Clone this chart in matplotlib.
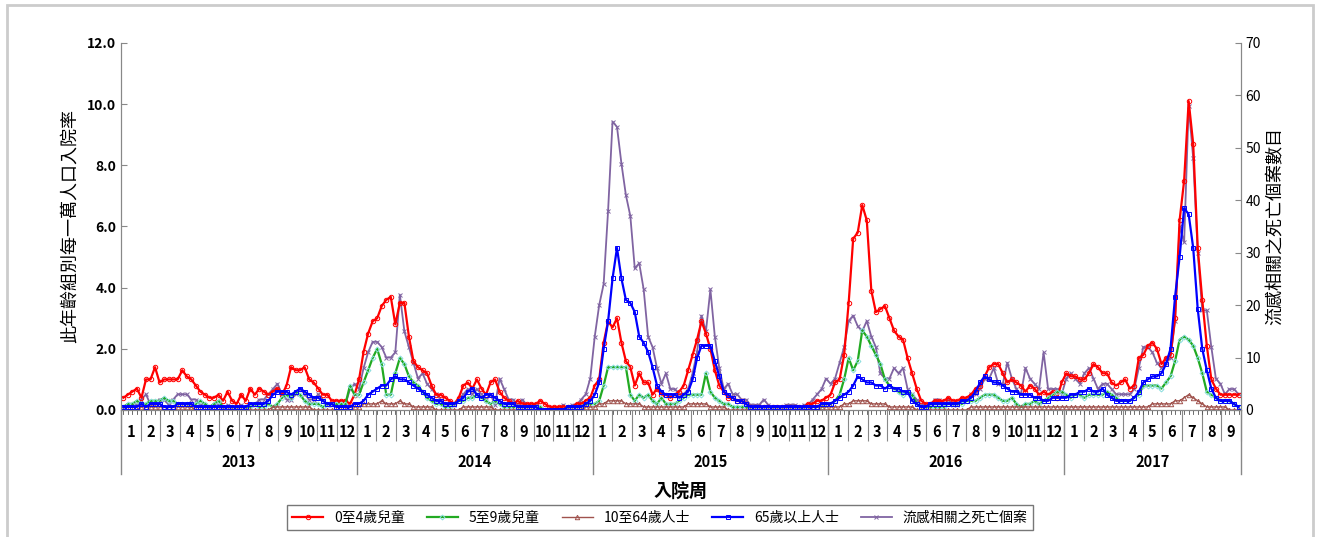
import numpy as np
import matplotlib.pyplot as plt
from matplotlib.transforms import blended_transform_factory

plt.rcParams['font.family'] = ['Noto Sans CJK TC', 'DejaVu Sans']

# 每周數據 (2013第1周 - 2017第39周)
red = ([0.4,0.5,0.6,0.7,0.4,1.0,1.0,1.4,0.9,1.0,1.0,1.0,1.0, 1.3,1.1,1.0,0.8,0.6,0.5,0.4,0.4,0.5,0.3,0.6,0.3,0.2,
        0.5,0.3,0.7,0.5,0.7,0.6,0.5,0.6,0.7,0.5,0.8,1.4,1.3, 1.3,1.4,1.0,0.9,0.7,0.5,0.5,0.3,0.3,0.3,0.3,0.2,0.5]
     + [1.0,1.9,2.5,2.9,3.0,3.4,3.6,3.7,2.8,3.5,3.5,2.4,1.6, 1.4,1.3,1.2,0.8,0.5,0.5,0.4,0.3,0.2,0.4,0.8,0.9,0.7,
        1.0,0.7,0.5,0.9,1.0,0.6,0.4,0.3,0.2,0.3,0.2,0.2,0.2, 0.2,0.3,0.2,0.1,0.1,0.1,0.1,0.1,0.1,0.2,0.2,0.3,0.4]
     + [0.8,1.0,2.2,2.9,2.7,3.0,2.2,1.6,1.4,0.8,1.2,0.9,0.9, 0.5,0.7,0.5,0.5,0.4,0.5,0.6,0.8,1.3,1.8,2.3,2.9,2.5,
        2.0,1.3,0.8,0.6,0.4,0.4,0.3,0.3,0.2,0.1,0.1,0.1,0.1, 0.1,0.1,0.1,0.1,0.1,0.1,0.1,0.1,0.1,0.2,0.2,0.3,0.3,0.4]
     + [0.5,0.9,1.0,1.8,3.5,5.6,5.8,6.7,6.2,3.9,3.2,3.3,3.4, 3.0,2.6,2.4,2.3,1.7,1.2,0.7,0.3,0.2,0.2,0.3,0.3,0.3,
        0.4,0.3,0.3,0.4,0.4,0.5,0.7,0.8,1.1,1.4,1.5,1.5,1.2, 0.9,1.0,0.9,0.8,0.6,0.8,0.7,0.5,0.6,0.5,0.6,0.4,0.9]
     + [1.2,1.1,1.1,1.0,1.0,1.2,1.5,1.4,1.2,1.2,0.9,0.8,0.9, 1.0,0.7,0.8,1.7,1.8,2.1,2.2,2.0,1.5,1.7,1.8,3.0,6.2,
        7.5,10.1,8.7,5.3,3.6,2.1,1.0,0.7,0.5,0.5,0.5,0.5,0.5])

green = ([0.1,0.2,0.2,0.3,0.2,0.2,0.3,0.3,0.3,0.4,0.3,0.3,0.2, 0.2,0.2,0.1,0.2,0.3,0.2,0.1,0.2,0.3,0.1,0.1,0.1,0.1,
          0.1,0.1,0.1,0.2,0.1,0.1,0.2,0.1,0.2,0.4,0.5,0.4,0.6, 0.5,0.3,0.2,0.2,0.2,0.1,0.2,0.2,0.2,0.2,0.2,0.8,0.5]
       + [0.5,0.9,1.3,1.7,2.0,1.5,0.5,0.5,1.2,1.7,1.5,1.1,0.9, 0.8,0.6,0.4,0.3,0.2,0.2,0.1,0.1,0.2,0.3,0.3,0.4,0.4,
          0.5,0.4,0.3,0.2,0.3,0.2,0.1,0.1,0.1,0.1,0.1,0.1,0.1, 0.1,0.1,0.0,0.0,0.0,0.0,0.0,0.1,0.1,0.1,0.1,0.2,0.2]
       + [0.2,0.3,0.8,1.4,1.4,1.4,1.4,1.4,0.5,0.3,0.5,0.4,0.5, 0.3,0.2,0.4,0.2,0.2,0.2,0.3,0.4,0.5,0.5,0.5,0.5,1.2,
          0.6,0.4,0.3,0.2,0.2,0.1,0.1,0.1,0.1,0.0,0.0,0.0,0.0, 0.0,0.0,0.0,0.0,0.0,0.0,0.0,0.0,0.1,0.1,0.1,0.1,0.1,0.2]
       + [0.2,0.3,0.5,1.0,1.7,1.3,1.6,2.6,2.4,2.1,1.8,1.5,1.0, 0.8,0.7,0.6,0.5,0.6,0.5,0.2,0.1,0.1,0.1,0.1,0.1,0.1,
          0.2,0.2,0.2,0.2,0.3,0.3,0.3,0.4,0.5,0.5,0.5,0.4,0.3, 0.3,0.4,0.2,0.1,0.2,0.2,0.3,0.2,0.3,0.4,0.5,0.6,0.6]
       + [0.5,0.4,0.5,0.5,0.4,0.5,0.5,0.5,0.5,0.6,0.5,0.4,0.3, 0.3,0.3,0.4,0.5,0.8,0.8,0.8,0.8,0.7,0.9,1.1,1.6,2.3,
          2.4,2.3,2.1,1.7,1.2,0.6,0.5,0.4,0.3,0.3,0.3,0.2,0.1])

brown = ([0.0,0.0,0.0,0.0,0.1,0.1,0.1,0.1,0.1,0.1,0.1,0.1,0.1, 0.1,0.1,0.1,0.0,0.0,0.0,0.0,0.0,0.0,0.0,0.0,0.0,0.0,
          0.0,0.0,0.0,0.0,0.0,0.0,0.0,0.1,0.1,0.1,0.1,0.1,0.1, 0.1,0.1,0.1,0.0,0.0,0.0,0.0,0.0,0.0,0.0,0.0,0.1,0.1]
       + [0.1,0.2,0.2,0.2,0.2,0.3,0.2,0.2,0.2,0.3,0.2,0.2,0.1, 0.1,0.1,0.1,0.1,0.0,0.0,0.0,0.0,0.0,0.0,0.1,0.1,0.1,
          0.1,0.1,0.1,0.1,0.0,0.0,0.0,0.0,0.0,0.0,0.0,0.0,0.0, 0.0,0.0,0.0,0.0,0.0,0.0,0.0,0.0,0.0,0.0,0.0,0.1,0.1]
       + [0.1,0.2,0.2,0.3,0.3,0.3,0.3,0.2,0.2,0.2,0.2,0.1,0.1, 0.1,0.1,0.1,0.1,0.1,0.1,0.1,0.1,0.2,0.2,0.2,0.2,0.2,
          0.1,0.1,0.1,0.1,0.0,0.0,0.0,0.0,0.0,0.0,0.0,0.0,0.0, 0.0,0.0,0.0,0.0,0.0,0.0,0.0,0.0,0.0,0.0,0.1,0.1,0.1,0.1]
       + [0.1,0.1,0.1,0.2,0.2,0.3,0.3,0.3,0.3,0.2,0.2,0.2,0.2, 0.1,0.1,0.1,0.1,0.1,0.1,0.0,0.0,0.0,0.0,0.0,0.0,0.0,
          0.0,0.0,0.0,0.0,0.0,0.1,0.1,0.1,0.1,0.1,0.1,0.1,0.1, 0.1,0.1,0.1,0.1,0.1,0.1,0.1,0.1,0.1,0.1,0.1,0.1,0.1]
       + [0.1,0.1,0.1,0.1,0.1,0.1,0.1,0.1,0.1,0.1,0.1,0.1,0.1, 0.1,0.1,0.1,0.1,0.1,0.1,0.2,0.2,0.2,0.2,0.2,0.3,0.3,
          0.4,0.5,0.4,0.3,0.2,0.1,0.1,0.1,0.1,0.1,0.0,0.0,0.0])

blue = ([0.1,0.1,0.1,0.1,0.2,0.1,0.2,0.2,0.2,0.1,0.1,0.1,0.2, 0.2,0.2,0.2,0.1,0.1,0.1,0.1,0.1,0.1,0.1,0.1,0.1,0.1,
         0.1,0.1,0.2,0.2,0.2,0.2,0.3,0.5,0.6,0.6,0.6,0.5,0.6, 0.7,0.6,0.5,0.4,0.4,0.3,0.2,0.2,0.1,0.1,0.1,0.1,0.2]
      + [0.2,0.3,0.5,0.6,0.7,0.8,0.8,1.0,1.1,1.0,1.0,0.9,0.8, 0.7,0.6,0.5,0.4,0.3,0.3,0.2,0.2,0.2,0.3,0.4,0.6,0.7,
         0.5,0.4,0.5,0.5,0.4,0.3,0.2,0.2,0.2,0.1,0.1,0.1,0.1, 0.1,0.0,0.0,0.0,0.0,0.0,0.0,0.1,0.1,0.1,0.1,0.2,0.3]
      + [0.5,0.9,2.0,2.9,4.3,5.3,4.3,3.6,3.5,3.2,2.4,2.2,1.9, 1.4,0.8,0.6,0.5,0.5,0.5,0.4,0.5,0.6,1.0,1.7,2.1,2.1,
         2.1,1.6,1.1,0.6,0.5,0.4,0.3,0.3,0.2,0.1,0.1,0.1,0.1, 0.1,0.1,0.1,0.1,0.1,0.1,0.1,0.1,0.1,0.1,0.1,0.1,0.2,0.2]
      + [0.2,0.3,0.4,0.5,0.6,0.8,1.1,1.0,0.9,0.9,0.8,0.8,0.7, 0.8,0.7,0.7,0.6,0.6,0.3,0.2,0.1,0.1,0.2,0.2,0.2,0.2,
         0.2,0.2,0.2,0.3,0.3,0.4,0.6,0.9,1.1,1.0,0.9,0.9,0.8, 0.7,0.6,0.6,0.5,0.5,0.5,0.4,0.4,0.3,0.3,0.4,0.4,0.4]
      + [0.4,0.5,0.5,0.6,0.6,0.7,0.6,0.6,0.7,0.5,0.4,0.3,0.3, 0.3,0.3,0.4,0.6,0.9,1.0,1.1,1.1,1.2,1.5,2.0,3.7,5.0,
         6.6,6.4,5.3,3.3,2.0,1.3,0.7,0.4,0.3,0.3,0.3,0.2,0.1])

deaths = ([0,1,1,1,2,3,1,1,2,2,1,2,3, 3,3,2,2,1,1,0,1,1,0,1,0,0,
           1,0,1,1,2,2,3,4,5,3,2,2,3, 4,3,2,2,3,2,1,1,1,1,1,4,5]
        + [4,8,11,13,13,12,10,10,11,22,15,12,9, 6,7,5,4,3,2,1,1,1,2,3,4,3,
           4,3,2,3,1,6,4,2,2,1,2,1,1, 1,0,0,0,0,0,1,0,1,1,2,3,6]
        + [14,20,24,38,55,54,47,41,37,27,28,23,14, 12,8,5,7,4,4,3,3,4,7,11,18,15,
           23,14,8,4,5,3,3,2,2,1,1,1,2, 1,0,0,0,1,1,1,0,1,1,2,3,4,6]
        + [5,6,9,12,17,18,16,15,17,14,12,7,6, 6,8,7,8,4,3,2,1,1,1,2,2,1,
           2,1,1,2,2,3,3,4,6,6,8,5,5, 9,6,4,3,8,6,5,4,11,4,4,4,3]
        + [6,7,6,5,7,8,6,4,5,5,4,3,3, 3,3,4,8,12,12,11,9,8,9,10,17,35,
           32,58,48,30,19,19,12,6,5,3,4,4,3])

months = ['1','2','3','4','5','6','7','8','9','10','11','12']
years = ['2013', '2014', '2015', '2016', '2017']
weeks_per_year = [52, 52, 53, 52, 39]

# x 坐標以月份為單位
x = []
for i, n in enumerate(weeks_per_year):
    full = 53 if n == 53 else 52
    for w in range(n):
        x.append(i * 12 + (w + 0.5) * 12 / full)
x = np.array(x)
nmonths = 4 * 12 + 9

fig = plt.figure(figsize=(13.2, 5.37), dpi=100)
ax = fig.add_axes([0.0917, 0.2365, 0.8483, 0.6835])
ax2 = ax.twinx()

ms = 3.2
l1, = ax.plot(x, red, color='#ff0000', lw=1.6, marker='o', ms=ms, mfc='none', mew=0.7, label='0至4歲兒童')
l2, = ax.plot(x, green, color='#22aa22', lw=1.6, marker='D', ms=2.5, mfc='none', mec='#88dddd', mew=0.7, label='5至9歲兒童')
l3, = ax.plot(x, brown, color='#a0524d', lw=1.0, marker='^', ms=ms, mfc='none', mew=0.7, label='10至64歲人士')
l4, = ax.plot(x, blue, color='#0000ff', lw=1.6, marker='s', ms=ms, mfc='none', mew=0.7, label='65歲以上人士')
l5, = ax2.plot(x, deaths, color='#8064a2', lw=1.3, marker='x', ms=ms, mew=0.7, label='流感相關之死亡個案')
ax.set_zorder(ax2.get_zorder() + 1)
ax.patch.set_visible(False)

ax.set_xlim(0, nmonths)
ax.set_ylim(0, 12)
ax2.set_ylim(0, 70)
ax.set_yticks(np.arange(0, 12.1, 2))
ax.set_yticklabels(['%.1f' % v for v in np.arange(0, 12.1, 2)], fontweight='bold', fontsize=10)
ax2.set_yticks(range(0, 71, 10))
ax2.tick_params(axis='y', labelsize=10)

for a in (ax, ax2):
    a.spines['top'].set_visible(False)
    for s in ('left', 'right', 'bottom'):
        a.spines[s].set_color('#888888')
ax.tick_params(axis='y', direction='in', length=4, color='#888888')
ax2.tick_params(axis='y', direction='in', length=4, color='#888888')

# 月份格線與標籤
ax.set_xticks(np.arange(0, nmonths + 1))
ax.set_xticklabels([])
ax.tick_params(axis='x', which='major', direction='out', length=22, color='#888888')
ax.set_xticks(np.arange(nmonths) + 0.5, minor=True)
ax.set_xticklabels([months[i % 12] for i in range(nmonths)], minor=True, fontweight='bold', fontsize=10.5)
ax.tick_params(axis='x', which='minor', length=0, pad=10)
tr = blended_transform_factory(ax.transData, ax.transAxes)
for xv in x:
    ax.plot([xv, xv], [0, -0.012], color='#555555', lw=0.6, transform=tr, clip_on=False)
for i in range(6):
    xb = min(i * 12, nmonths)
    ax.plot([xb, xb], [0, -0.175], color='#888888', lw=1.0, transform=tr, clip_on=False)
for i, yr in enumerate(years):
    end = min((i + 1) * 12, nmonths)
    ax.text((i * 12 + end) / 2, -0.155, yr, transform=tr, ha='center', fontweight='bold', fontsize=10.5)

ax.text(0.5, -0.225, '入院周', transform=ax.transAxes, ha='center', va='center', fontsize=13, fontweight='bold')
ax.set_ylabel('此年齡組別每一萬人口入院率', fontsize=13, labelpad=6)
ax2.set_ylabel('流感相關之死亡個案數目', fontsize=13, labelpad=4)

leg = fig.legend(handles=[l1, l2, l3, l4, l5], loc='lower center', bbox_to_anchor=(0.5, 0.0),
                 ncol=5, fontsize=10, frameon=True, fancybox=False, edgecolor='#555555',
                 handlelength=2.2, columnspacing=1.6)

fig.patches.append(plt.Rectangle((0.005, -0.01), 0.99, 1.0, transform=fig.transFigure,
                                 fill=False, edgecolor='#cccccc', lw=2))
fig.savefig('out.png', dpi=100)
